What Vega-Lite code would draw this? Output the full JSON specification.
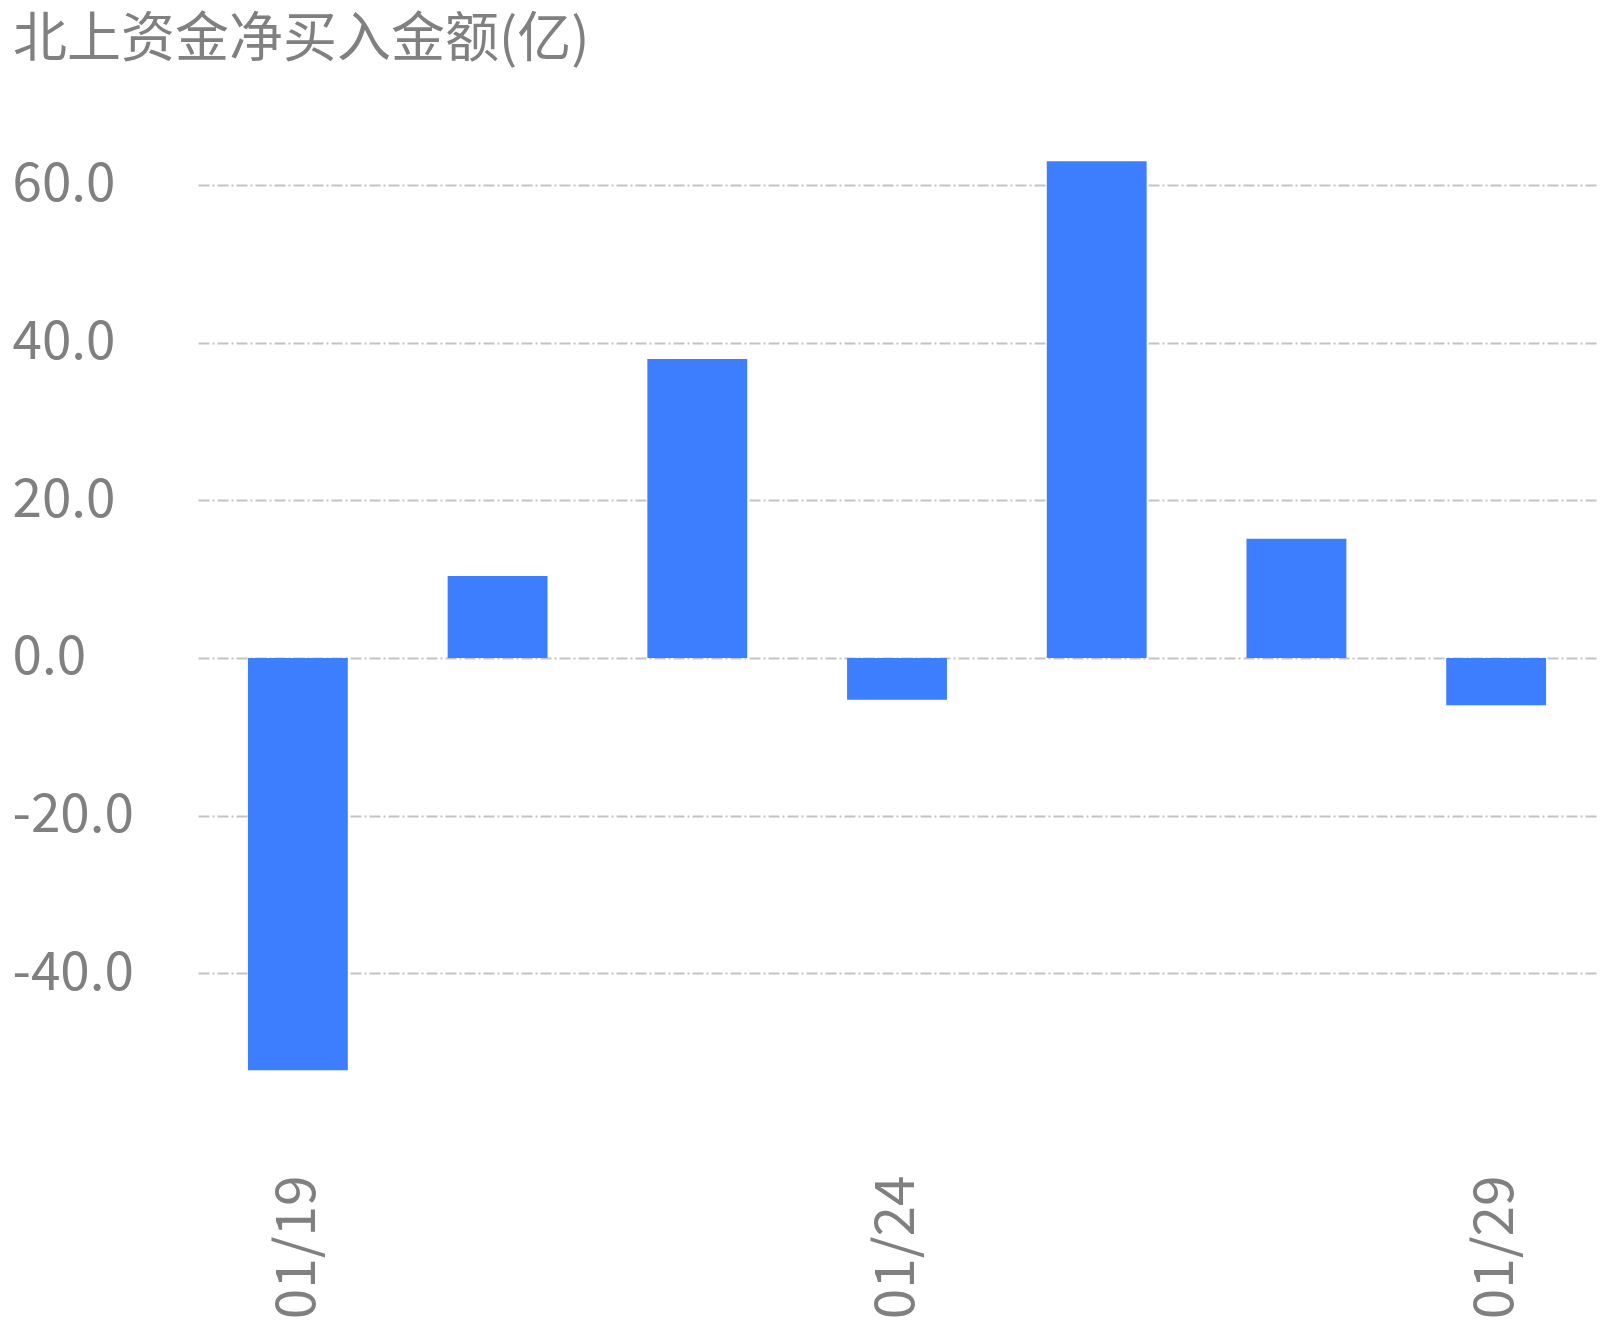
{
  "$schema": "https://vega.github.io/schema/vega-lite/v6.json",
  "autosize": {"type": "none"},
  "padding": {"left": 198, "top": 106, "right": 10, "bottom": 199},
  "width": 1398,
  "height": 1025,
  "background": "#ffffff",
  "title": {
    "text": "北上资金净买入金额(亿)",
    "anchor": "start",
    "frame": "group",
    "dx": -185,
    "offset": 38,
    "font": "Noto Sans CJK SC",
    "fontSize": 54,
    "fontWeight": "normal",
    "color": "#808080"
  },
  "config": {
    "view": {"stroke": null},
    "axis": {
      "labelFont": "Noto Sans CJK SC",
      "labelFontSize": 53,
      "labelColor": "#808080"
    }
  },
  "data": {
    "values": [
      {"date": "01/19", "net": -52.3},
      {"date": "01/22", "net": 10.4},
      {"date": "01/23", "net": 37.9},
      {"date": "01/24", "net": -5.3},
      {"date": "01/25", "net": 63.0},
      {"date": "01/26", "net": 15.1},
      {"date": "01/29", "net": -6.0}
    ]
  },
  "mark": {"type": "bar", "color": "#3d7dff"},
  "encoding": {
    "x": {
      "field": "date",
      "type": "ordinal",
      "sort": null,
      "scale": {"paddingInner": 0.5, "paddingOuter": 0.25},
      "axis": {
        "title": null,
        "values": ["01/19", "01/24", "01/29"],
        "labelAngle": -90,
        "labelPadding": 44,
        "labelFontSize": 55,
        "ticks": false,
        "tickSize": 0,
        "domain": false,
        "grid": false
      }
    },
    "y": {
      "field": "net",
      "type": "quantitative",
      "scale": {"domain": [-60, 70], "nice": false, "zero": false},
      "axis": {
        "title": null,
        "values": [-40, -20, 0, 20, 40, 60],
        "labelExpr": "datum.value < 0 ? '-' + format(-datum.value, '.1f') : format(datum.value, '.1f')",
        "labelAlign": "left",
        "labelBaseline": "middle",
        "labelPadding": 186,
        "ticks": false,
        "tickSize": 0,
        "domain": false,
        "grid": true,
        "gridColor": "#c4c4c4",
        "gridWidth": 2,
        "gridDash": [11, 3, 2, 3]
      }
    }
  }
}
